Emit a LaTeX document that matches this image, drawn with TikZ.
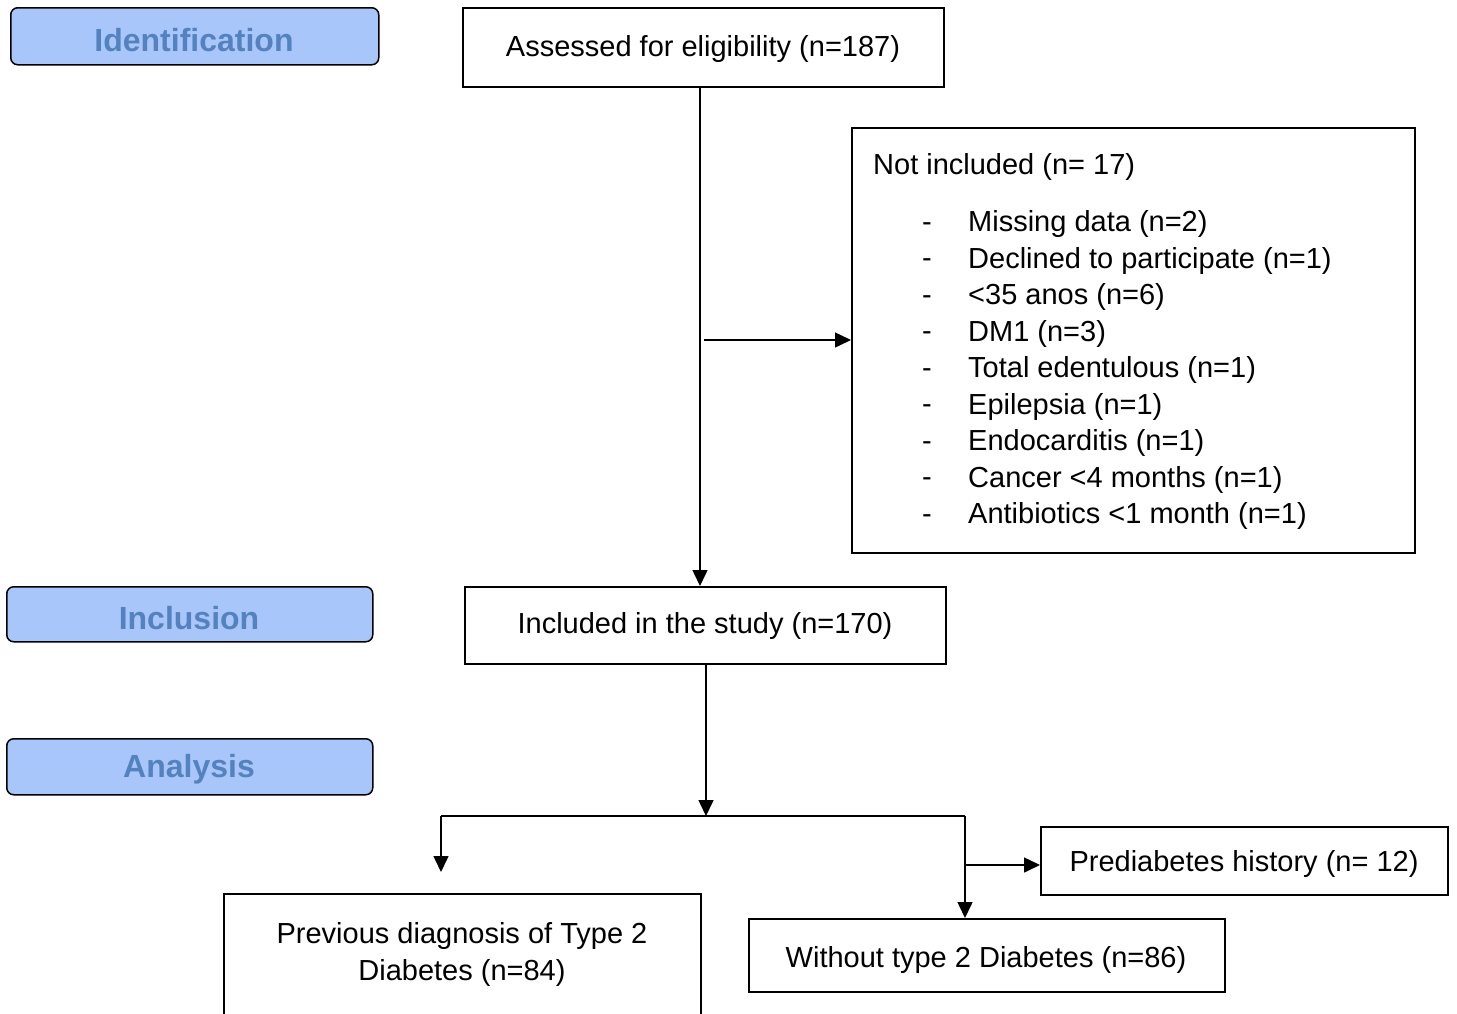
\documentclass[tikz,border=0pt]{standalone}
\usepackage{fontspec}
\setmainfont{Liberation Sans}
\usetikzlibrary{arrows.meta}
\definecolor{hdrfill}{RGB}{168,198,250}
\definecolor{hdrtext}{RGB}{84,130,190}
\begin{document}
\begin{tikzpicture}[x=1pt,y=-1pt,
  box/.style={draw, line width=1.5pt, anchor=north west, inner sep=0pt},
  hdr/.style={draw, line width=1.5pt, rounded corners=7pt, fill=hdrfill, anchor=north west, inner sep=0pt},
  hdrtxt/.style={text=hdrtext, inner sep=0pt, font=\fontsize{32}{36}\selectfont\bfseries},
  item/.style={anchor=west, inner sep=0pt, font=\fontsize{29}{35}\selectfont},
  arr/.style={line width=1.5pt, -{Triangle[width=15pt,length=16pt]}},
  ln/.style={line width=1.5pt}]
\useasboundingbox (0,0) rectangle (1457,1013);
% headers
\node[hdr, minimum width=368, minimum height=57] (hid) at (10,7) {};
\node[hdrtxt] (hidt) at (194,40) {Identification};
\node[hdr, minimum width=366, minimum height=55] (hinc) at (6,586) {};
\node[hdrtxt] (hinct) at (189,618) {Inclusion};
\node[hdr, minimum width=366, minimum height=56] (hana) at (6,738) {};
\node[hdrtxt] (hanat) at (189,769) {Analysis};
% boxes
\node[box, minimum width=481, minimum height=79] (assessed) at (462,7) {};
\node[item, anchor=center] (assessedt) at (703,49) {Assessed for eligibility (n=187)};
\node[box, minimum width=563, minimum height=425] (notinc) at (851,127) {};
\node[item] (nihead) at (873,167) {Not included (n= 17)};
\foreach \i/\t in {1/Missing data (n=2), 2/Declined to participate (n=1), 3/<35 anos (n=6), 4/DM1 (n=3), 5/Total edentulous (n=1), 6/Epilepsia (n=1), 7/Endocarditis (n=1), 8/Cancer <4 months (n=1), 9/Antibiotics <1 month (n=1)}{
  \node[item] (d\i) at (922,{227+36.5*(\i-1)}) {-};
  \node[item] (t\i) at (968,{224+36.5*(\i-1)}) {\t};
}
\node[box, minimum width=481, minimum height=77] (included) at (464,586) {};
\node[item, anchor=center] (includedt) at (705,626) {Included in the study (n=170)};
\node[box, minimum width=407, minimum height=68] (prediab) at (1040,826) {};
\node[item, anchor=center] (prediabt) at (1244,864) {Prediabetes history (n= 12)};
\node[box, minimum width=477, minimum height=130] (prev) at (223,893) {};
\node[font=\fontsize{29}{37}\selectfont, align=center] (prevtext) at (462,954) {Previous diagnosis of Type 2\\Diabetes (n=84)};
\node[box, minimum width=476, minimum height=73] (without) at (748,918) {};
\node[item, anchor=center] (withoutt) at (986,960) {Without type 2 Diabetes (n=86)};
% connectors
\coordinate (top1) at (700,86);
\draw[arr] (top1) -- (top1 |- included.north);
\coordinate (br1) at (704,340);
\draw[arr] (br1) -- (br1 -| notinc.west);
\coordinate (c1) at (706,663);
\coordinate (split) at (706,816);
\draw[arr] (c1) -- (split);
\coordinate (lft) at (441,816);
\coordinate (lftend) at (441,872);
\coordinate (rgt) at (965,816);
\coordinate (rbr) at (965,865);
\draw[ln] (lft) -- (rgt);
\draw[arr] (lft) -- (lftend);
\draw[arr] (rgt) -- (rgt |- without.north);
\draw[arr] (rbr) -- (rbr -| prediab.west);
\end{tikzpicture}
\end{document}
